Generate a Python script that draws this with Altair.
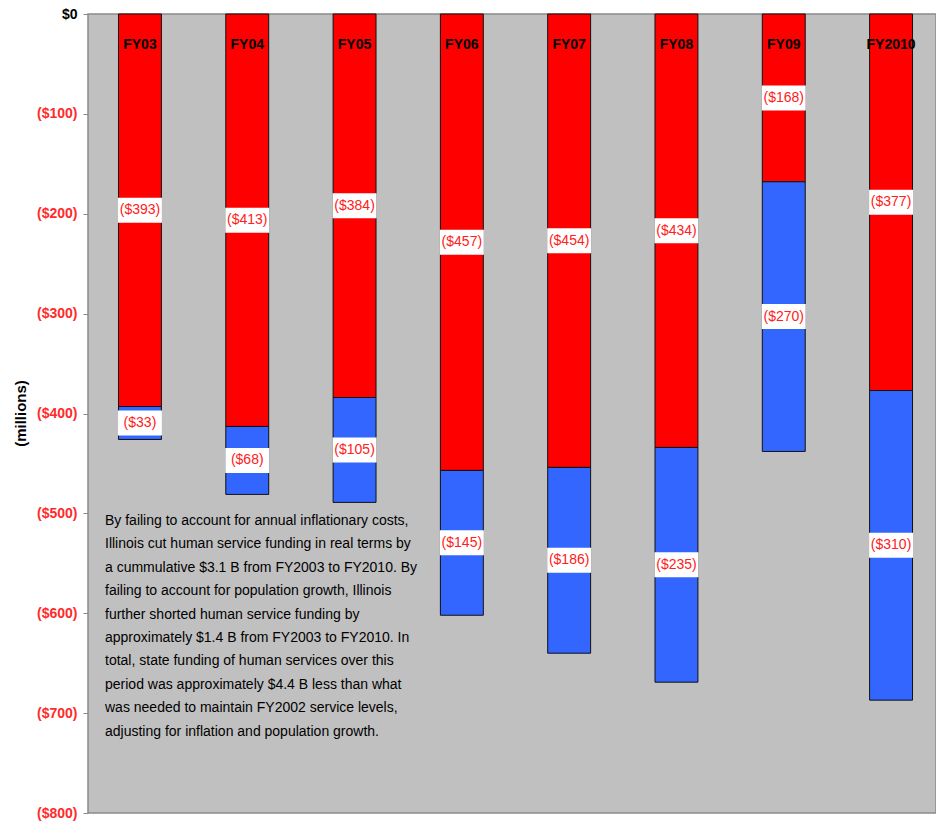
import altair as alt
import pandas as pd

# Fiscal years and the two shortfall components (millions of dollars)
years = ["FY03", "FY04", "FY05", "FY06", "FY07", "FY08", "FY09", "FY2010"]
inflation_gap = [393, 413, 384, 457, 454, 434, 168, 377]
population_gap = [33, 68, 105, 145, 186, 235, 270, 310]
y_ticks = [0, -100, -200, -300, -400, -500, -600, -700, -800]

note = (
    "By failing to account for annual inflationary costs,\n"
    "Illinois cut human service funding in real terms by\n"
    "a cummulative $3.1 B from FY2003 to FY2010.  By\n"
    "failing to account for population growth, Illinois\n"
    "further shorted human service funding by\n"
    "approximately $1.4 B from FY2003 to FY2010.  In\n"
    "total, state funding of human services over this\n"
    "period was approximately $4.4 B less than what\n"
    "was needed to maintain FY2002 service levels,\n"
    "adjusting for inflation and population growth."
)

rows = []
for yr, a, b in zip(years, inflation_gap, population_gap):
    rows.append({"year": yr, "part": "inflation", "amount": a, "top": 0, "bottom": -a})
    rows.append({"year": yr, "part": "population", "amount": b, "top": -a, "bottom": -(a + b)})
df = pd.DataFrame(rows)
df["mid"] = (df["top"] + df["bottom"]) / 2
df["label"] = "($" + df["amount"].astype(str) + ")"

FONT = "Liberation Sans, Arial"

# Band layout: narrow bars, plot area running off past the last bar on the right
x_scale = alt.Scale(paddingInner=0.6, paddingOuter=0.2515, align=0.565)
x_enc = alt.X("year:N", sort=years, axis=None, scale=x_scale)

y_axis = alt.Axis(
    values=y_ticks,
    labelExpr="datum.value == 0 ? '$0' : '($' + abs(datum.value) + ')'",
    labelColor={"expr": "datum.value == 0 ? '#000000' : '#FF2A2A'"},
    labelFont=FONT,
    labelFontWeight="bold",
    labelFontSize=14,
    labelPadding=6,
    tickSize=5,
    tickColor="#8A8A8A",
    domain=False,
    grid=False,
    title="(millions)",
    titleFont=FONT,
    titleFontSize=15,
    titleFontWeight="bold",
    titleX=-68,
    titleY=399,
    titleAngle=270,
    titleAlign="center",
    titleBaseline="middle",
)

y_scale = alt.Scale(domain=[-800, 0], nice=False)

base = alt.Chart(df)

bars = base.mark_bar(stroke="#111111", strokeWidth=1).encode(
    x=x_enc,
    y=alt.Y("top:Q", scale=y_scale, axis=y_axis),
    y2="bottom:Q",
    color=alt.Color(
        "part:N",
        scale=alt.Scale(domain=["inflation", "population"], range=["#FF0000", "#3366FF"]),
        legend=None,
    ),
)

boxes = base.mark_tick(color="#FFFFFF", thickness=25, size=44, opacity=1).encode(
    x=x_enc,
    y=alt.Y("mid:Q", scale=y_scale),
)

values = base.mark_text(
    color="#FF2020", font=FONT, fontSize=14, baseline="middle", align="center"
).encode(
    x=x_enc,
    y=alt.Y("mid:Q", scale=y_scale),
    text="label:N",
)

year_df = pd.DataFrame({"year": years})
year_labels = alt.Chart(year_df).mark_text(
    font=FONT, fontSize=14, fontWeight="bold", color="#000000", baseline="middle"
).encode(
    x=alt.X("year:N", sort=years, axis=None, scale=x_scale),
    y=alt.value(31),
    text="year:N",
)

note_text = alt.Chart(pd.DataFrame({"t": [note]})).mark_text(
    font=FONT, fontSize=14, align="left", baseline="middle",
    lineBreak="\n", lineHeight=23.4, color="#000000",
).encode(
    x=alt.value(17),
    y=alt.value(507),
    text="t:N",
)

chart = (
    alt.layer(bars, boxes, values, year_labels, note_text)
    .properties(
        width=848,
        height=799,
        autosize=alt.AutoSizeParams(type="none"),
        padding={"left": 88, "top": 14, "right": 0, "bottom": 8},
        background="#FFFFFF",
    )
    .configure_view(fill="#C0C0C0", stroke="#8A8A8A", strokeWidth=1.5)
)

chart.save("out.html", embed_options={"renderer": "svg", "actions": False})
